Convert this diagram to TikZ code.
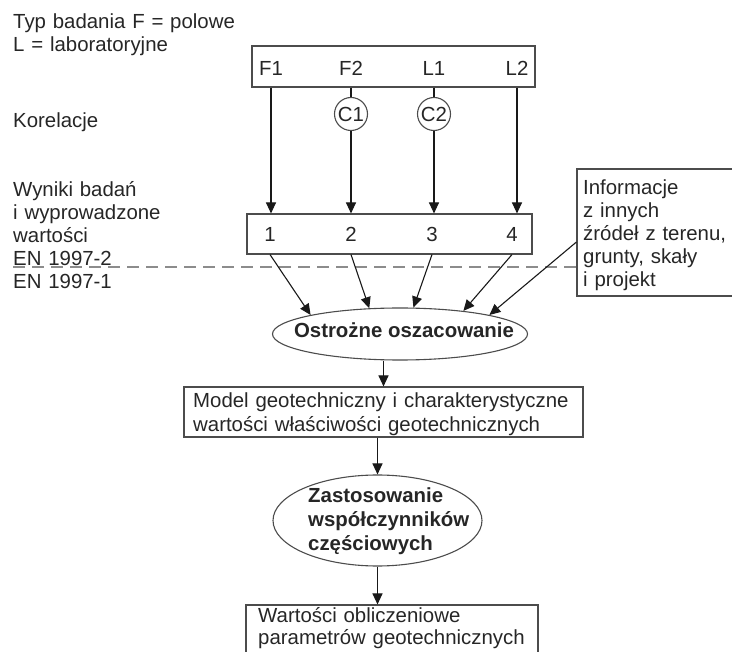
\documentclass[tikz,border=0pt]{standalone}
\usepackage{fontspec}
\setmainfont{Liberation Sans}
\usetikzlibrary{arrows.meta,shapes.geometric}

\begin{document}
\begin{tikzpicture}[x=1pt, y=-1pt,
  txt/.style={inner sep=0pt, text=black!85, font=\fontsize{20.4pt}{23pt}\selectfont},
  blk/.style={txt, anchor=base west, align=left, text width=#1},
  blk/.default=260pt,
  box/.style={draw=black!70, line width=1.1pt, rectangle, inner sep=0pt},
  oval/.style={draw=black!70, line width=1.1pt, ellipse, inner sep=0pt},
  corr/.style={draw=black!70, line width=1.1pt, circle, inner sep=0pt, minimum size=33pt, txt},
  bold/.style={txt, font=\fontsize{20.4pt}{24pt}\selectfont\bfseries},
  arr/.style={draw=black!90, line width=1.1pt, -{Triangle[length=11pt,width=10pt]}},
  ln/.style={draw=black!90, line width=1.1pt},
  divide/.style={draw=black!45, line width=1.4pt, dash pattern=on 12pt off 7pt}]
\useasboundingbox (0,0) rectangle (732,652);
\clip (0,0) rectangle (732,652);

% left column texts
\node[blk] (typtxt) at (13,29) {\fontsize{20.4pt}{21pt}\selectfont Typ badania F = polowe\\L = laboratoryjne};
\node[blk] (kortxt) at (13,128) {Korelacje};
\node[blk] (wyntxt) at (13,197) {Wyniki badań\\i wyprowadzone\\wartości\\EN 1997-2\\EN 1997-1};

% test types
\node[box, minimum width=283pt, minimum height=41pt] (typ) at (393.5,66.5) {};
\node[txt, anchor=base] (f1) at (271,76) {F1};
\node[txt, anchor=base] (f2) at (351,76) {F2};
\node[txt, anchor=base] (l1) at (434,76) {L1};
\node[txt, anchor=base] (l2) at (517,76) {L2};

% correlations
\node[corr] (c1) at (351,114) {C1};
\node[corr] (c2) at (434,114) {C2};

% results
\node[box, minimum width=285pt, minimum height=40pt] (wyn) at (389.5,234) {};
\node[txt, anchor=base] (n1) at (270,242) {1};
\node[txt, anchor=base] (n2) at (351,242) {2};
\node[txt, anchor=base] (n3) at (432,242) {3};
\node[txt, anchor=base] (n4) at (512,242) {4};

% other information
\node[box, minimum width=183pt, minimum height=127pt] (info) at (668.5,232.5) {};
\node[blk=150pt] (infotxt) at (583,195) {Informacje\\z innych\\źródeł z terenu,\\grunty, skały\\i projekt};

% EN 1997-2 / EN 1997-1 border
\coordinate (dl) at (13,267);
\draw[divide] (dl) -- (dl -| info.west);

% cautious estimate
\node[oval, minimum width=255pt, minimum height=52pt] (ost) at (400,334) {};
\node[bold, anchor=base] (osttxt) at (404,338) {Ostrożne oszacowanie};

\node[box, minimum width=399pt, minimum height=50pt] (model) at (383.5,412) {};
\node[blk=390pt, font=\fontsize{20.4pt}{24pt}\selectfont] (modeltxt) at (193,408) {Model geotechniczny i charakterystyczne\\wartości właściwości geotechnicznych};

\node[oval, minimum width=209pt, minimum height=91pt] (zas) at (377.5,520.5) {};
\node[bold, anchor=base west, align=left, text width=180pt] (zastxt) at (308,503) {Zastosowanie\\współczynników\\częściowych};

\node[box, minimum width=292pt, minimum height=75pt] (wart) at (392,642.5) {};
\node[blk=280pt, font=\fontsize{20.4pt}{22pt}\selectfont] (warttxt) at (258,623) {Wartości obliczeniowe\\parametrów geotechnicznych};

% connectors
\draw[arr] (f1 |- typ.south) -- (f1 |- wyn.north);
\draw[ln] (c1 |- typ.south) -- (c1.north);
\draw[arr] (c1.south) -- (c1 |- wyn.north);
\draw[ln] (c2 |- typ.south) -- (c2.north);
\draw[arr] (c2.south) -- (c2 |- wyn.north);
\draw[arr] (l2 |- typ.south) -- (l2 |- wyn.north);

\draw[arr] (n1 |- wyn.south) -- (ost.168);
\draw[arr] (n2 |- wyn.south) -- (ost.140);
\draw[arr] (n3 |- wyn.south) -- (ost.63);
\draw[arr] (n4 |- wyn.south) -- (ost.20);
\draw[arr] ([yshift=-9.5pt]info.west) -- (ost.12);

\draw[arr] (model.north |- ost.south) -- (model.north);
\draw[arr] (model.south -| zas.north) -- (zas.north);
\draw[arr] (zas.south) -- (zas.south |- wart.north);
\end{tikzpicture}
\end{document}
